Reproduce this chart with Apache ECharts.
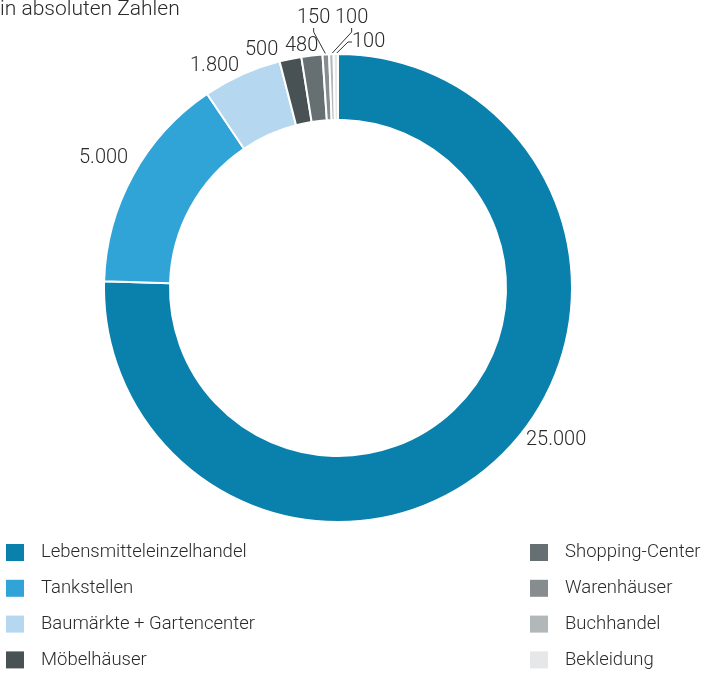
<!DOCTYPE html>
<html><head><meta charset="utf-8">
<script src="https://cdn.jsdelivr.net/npm/echarts@6/dist/echarts.min.js"></script>
<style>html,body{margin:0;padding:0;background:#fff}#c{width:711px;height:673px}</style>
</head><body><div id="c"></div>
<script>
var categories = ['Lebensmitteleinzelhandel','Tankstellen','Baumärkte + Gartencenter','Möbelhäuser','Shopping-Center','Warenhäuser','Buchhandel','Bekleidung'];
var values = [25000, 5000, 1800, 500, 480, 150, 100, 100];
var valueLabels = ['25.000','5.000','1.800','500','480','150','100','100'];

var colors = ['#0a80ad','#30a4d6','#b5d7f0','#485254','#667072','#878d8f','#b2b8ba','#e5e7e8'];
// label anchor positions (left edge, vertical middle)
var labelPos = [[526,440],[79,158],[190,66],[245,50],[285,46],[297,18],[335,18],[352,42]];
var showLine = [false,false,false,false,false,true,true,true];
var FONT = 'Roboto';

var chart = echarts.init(document.getElementById('c'), null, {renderer:'canvas'});
var data = categories.map(function(n,i){
  return {name:n, value:values[i], itemStyle:{color:colors[i]},
    label:{formatter:valueLabels[i]},
    labelLine:{show:showLine[i]}};
});
var legendText = {fontFamily:FONT, fontWeight:300, fontSize:18.5, color:'#2a2a2a', padding:[0,0,0,12]};
chart.setOption({
  animation:false,
  title:{text:'in absoluten Zahlen', left:0, top:-1, padding:0,
    textStyle:{fontFamily:FONT, fontWeight:300, fontSize:21, color:'#2a2a2a'}},
  legend:[{
    data:categories.slice(0,4), orient:'vertical', left:6, top:543, height:140, padding:0,
    icon:'rect', itemWidth:18, itemHeight:17, itemGap:16.8,
    itemStyle:{borderWidth:0},
    textStyle:legendText,
    selectedMode:false
  },{
    data:categories.slice(4), orient:'vertical', left:530, top:543, height:140, padding:0,
    icon:'rect', itemWidth:18, itemHeight:17, itemGap:16.8,
    itemStyle:{borderWidth:0},
    textStyle:legendText,
    selectedMode:false
  }],
  series:[{
    type:'pie', center:[338,288], radius:[168,234], startAngle:90, clockwise:true,
    avoidLabelOverlap:false, minAngle:0,
    itemStyle:{borderColor:'#fff', borderWidth:2},
    label:{show:true, position:'outside', fontFamily:FONT, fontWeight:300, fontSize:20, color:'#2a2a2a'},
    labelLine:{length:6, length2:4, lineStyle:{color:'#333', width:1}},
    labelLayout:function(p){
      var q = labelPos[p.dataIndex];
      return {x:q[0], y:q[1], align:'left', verticalAlign:'middle'};
    },
    emphasis:{disabled:true},
    data:data
  }]
});
</script></body></html>
